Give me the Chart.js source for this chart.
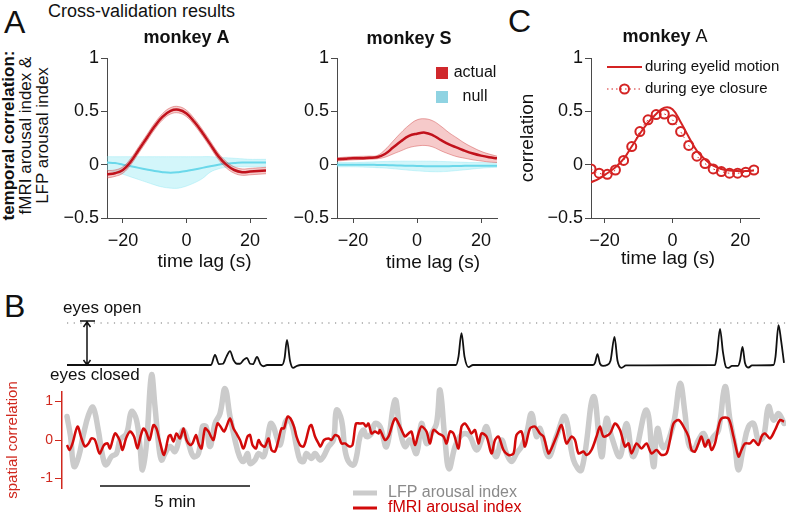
<!DOCTYPE html>
<html>
<head>
<meta charset="utf-8">
<title>Arousal index cross-validation</title>
<script src="https://cdn.jsdelivr.net/npm/chart.js@4.4.1/dist/chart.umd.min.js"></script>
<style>
    body { margin: 0; background: #fff; }
    #figure { position: relative; width: 786px; height: 516px; overflow: hidden;
              font-family: 'Liberation Sans', Arial, sans-serif; color: #111; }
    .panel { position: absolute; }
    .tag { position: absolute; font-size: 32px; line-height: 32px; }
    .heading { position: absolute; font-size: 18px; line-height: 18px; white-space: nowrap; }
    .ylab { position: absolute; width: 200px; height: 51px; font-size: 17px; line-height: 17px;
            text-align: center; white-space: nowrap; transform: rotate(-90deg); }
</style>
</head>
<body>
<div id="figure">
    <div class="tag" style="left:4px;top:6px">A</div>
    <div class="heading" style="left:48px;top:2px">Cross-validation results</div>
    <div class="ylab" style="left:-75px;top:110px"><b>temporal correlation:</b><br>fMRI arousal index &amp;<br>LFP arousal index</div>
    <div class="tag" style="left:508px;top:5px">C</div>
    <div class="tag" style="left:4px;top:290px">B</div>

    <div class="panel" style="left:45px;top:20px;width:230px;height:260px"><canvas id="monkeyA"></canvas></div>
    <div class="panel" style="left:275px;top:20px;width:230px;height:260px"><canvas id="monkeyS"></canvas></div>
    <div class="panel" style="left:505px;top:20px;width:281px;height:260px"><canvas id="eyelid"></canvas></div>
    <div class="panel" style="left:0;top:290px;width:786px;height:100px"><canvas id="eyeTraceChart"></canvas></div>
    <div class="panel" style="left:0;top:350px;width:786px;height:166px"><canvas id="arousalChart"></canvas></div>
</div>

<script>
// ── Panel A: cross-validated temporal correlation vs lag (s) ──
const lagA = [-25, -22.5, -20, -17.5, -15, -12.5, -10, -7.5, -5, -2.5, 0, 2.5, 5, 7.5, 10, 12.5, 15, 17.5, 20, 22.5, 25];

// monkey A
const actualA    = [-0.09, -0.08, -0.05, 0.03, 0.14, 0.25, 0.36, 0.45, 0.505, 0.515, 0.48, 0.40, 0.30, 0.19, 0.08, 0.00, -0.05, -0.07, -0.065, -0.06, -0.055];
const actualA_hi = [-0.055, -0.05, -0.02, 0.06, 0.17, 0.28, 0.39, 0.48, 0.535, 0.545, 0.51, 0.43, 0.33, 0.22, 0.11, 0.03, -0.02, -0.04, -0.035, -0.03, -0.025];
const actualA_lo = [-0.125, -0.11, -0.08, 0.00, 0.11, 0.22, 0.33, 0.42, 0.475, 0.485, 0.45, 0.37, 0.27, 0.16, 0.05, -0.03, -0.08, -0.10, -0.095, -0.09, -0.085];
const nullA      = [0.02, 0.015, 0.0, -0.015, -0.03, -0.045, -0.06, -0.07, -0.075, -0.07, -0.06, -0.045, -0.03, -0.015, 0.0, 0.01, 0.015, 0.02, 0.02, 0.02, 0.02];
const nullA_hi   = [0.075, 0.075, 0.075, 0.075, 0.075, 0.075, 0.075, 0.075, 0.075, 0.075, 0.075, 0.075, 0.075, 0.075, 0.07, 0.065, 0.06, 0.055, 0.05, 0.05, 0.05];
const nullA_lo   = [-0.05, -0.07, -0.09, -0.115, -0.14, -0.165, -0.19, -0.21, -0.22, -0.22, -0.2, -0.17, -0.13, -0.07, -0.04, -0.025, -0.02, -0.02, -0.02, -0.02, -0.02];

// monkey S
const actualS    = [0.05, 0.055, 0.06, 0.06, 0.065, 0.07, 0.10, 0.16, 0.22, 0.27, 0.29, 0.30, 0.275, 0.23, 0.19, 0.16, 0.13, 0.105, 0.085, 0.07, 0.06];
const actualS_hi = [0.065, 0.07, 0.075, 0.078, 0.08, 0.085, 0.14, 0.22, 0.30, 0.37, 0.42, 0.43, 0.41, 0.36, 0.30, 0.25, 0.20, 0.16, 0.125, 0.10, 0.08];
const actualS_lo = [0.035, 0.04, 0.045, 0.048, 0.05, 0.055, 0.07, 0.10, 0.13, 0.16, 0.175, 0.18, 0.165, 0.13, 0.10, 0.075, 0.06, 0.045, 0.035, 0.025, 0.02];
const nullS      = [0.0, 0.0, 0.0, 0.0, 0.0, -0.002, -0.004, -0.006, -0.008, -0.01, -0.012, -0.014, -0.015, -0.015, -0.014, -0.012, -0.011, -0.01, -0.01, -0.01, -0.01];
const nullS_hi   = [0.02, 0.02, 0.02, 0.022, 0.025, 0.028, 0.03, 0.032, 0.033, 0.033, 0.033, 0.033, 0.032, 0.03, 0.028, 0.025, 0.022, 0.02, 0.02, 0.018, 0.018];
const nullS_lo   = [-0.02, -0.02, -0.02, -0.022, -0.025, -0.028, -0.032, -0.038, -0.045, -0.052, -0.058, -0.063, -0.066, -0.066, -0.062, -0.055, -0.048, -0.04, -0.033, -0.028, -0.025];

// ── Panel C: monkey A, eyelid motion vs eye closure ──
const lagC          = [-24, -21.6, -19.2, -16.8, -14.4, -12, -9.6, -7.2, -4.8, -2.4, 0, 2.4, 4.8, 7.2, 9.6, 12, 14.4, 16.8, 19.2, 21.6, 24];
const eyelidMotionC = [-0.165, -0.13, -0.08, -0.025, 0.055, 0.17, 0.29, 0.395, 0.475, 0.535, 0.52, 0.40, 0.26, 0.13, 0.05, -0.01, -0.04, -0.055, -0.06, -0.06, -0.055];
const eyeClosureC   = [-0.04, -0.08, -0.09, -0.05, 0.04, 0.17, 0.31, 0.42, 0.47, 0.475, 0.42, 0.31, 0.18, 0.08, 0.01, -0.04, -0.065, -0.08, -0.08, -0.07, -0.05];

// ── Panel B: time courses (time in s) ──
// eyelid trace: 0 = eyes closed, 1 = eyes open
const eyeTime  = [0, 288, 296, 304, 312, 319, 326, 333, 340, 346, 353, 360, 366, 372, 380, 387, 393, 400, 430, 435,
                  440, 446, 452, 460, 468, 778, 783, 789, 795, 803, 812, 1052, 1056, 1061, 1066, 1072, 1080, 1087, 1095, 1101,
                  1109, 1118, 1296, 1300, 1306, 1312, 1318, 1323, 1330, 1342, 1346, 1351, 1356, 1363, 1370, 1413, 1417, 1423, 1428, 1434];
const eyeTrace = [0, 0, 0.24, 0.02, 0.03, 0.2, 0.33, 0.12, 0.03, 0.03, 0.12, 0.17, 0.03, 0.02, 0.19, 0.02, -0.03, 0, 0, 0.15,
                  0.6, 0.1, -0.07, -0.02, 0, 0, 0.2, 0.76, 0.2, -0.05, 0, 0, 0.05, 0.26, 0.03, -0.02, 0, 0.1, 0.67, 0.1,
                  -0.07, -0.01, 0, 0.25, 0.86, 0.3, -0.05, -0.07, -0.02, -0.02, 0.1, 0.43, 0.05, -0.06, -0.01, 0, 0.2, 0.95, 0.6, 0.05];

const lfpTime  = [0, 7, 14, 23, 33, 43, 52, 62, 71, 78, 89, 99, 106, 119, 129, 139, 146, 151, 159, 169,
                  176, 183, 189, 196, 206, 216, 226, 233, 243, 253, 263, 271, 278, 286, 296, 306, 316, 326, 336, 345,
                  353, 361, 366, 376, 383, 393, 399, 407, 413, 419, 426, 433, 439, 449, 459, 466, 473, 479, 489, 496,
                  506, 513, 523, 533, 539, 549, 556, 563, 573, 579, 586, 593, 599, 609, 616,
                  626, 639, 656, 666, 676, 686, 699, 709, 719, 729, 739, 746, 756, 764, 776, 786, 796, 806, 819, 829,
                  839, 849, 859, 869, 879, 889, 899, 909, 919, 929, 939, 946, 963, 979, 996, 1013, 1029, 1053, 1069, 1079,
                  1089, 1106, 1119, 1133, 1159, 1173, 1181, 1193, 1213, 1226, 1236, 1243, 1253, 1263, 1273, 1283, 1293, 1303, 1316, 1326,
                  1336, 1343, 1353, 1363, 1373, 1383, 1393, 1403, 1413, 1423, 1434];
const lfpIndex = [0.61, 0.1, -0.69, -0.45, 0.15, 0.65, 0.85, 0.3, -0.4, -0.65, -0.43, -0.35, 0, 0.17, 0.74, 0.52, -0.17, -0.78, -0.09, 1.69,
                  0.87, -0.09, -0.52, -0.35, -0.17, -0.30, 0.09, 0.26, -0.09, -0.43, -0.35, 0.35, 0.35, -0.17, 0.43, 0.69, 1.34, 0.61, 0, -0.43,
                  -0.56, -0.35, -0.61, -0.52, -0.35, -0.43, -0.13, 0.43, 0.35, 0.09, -0.13, 0.26, 0.52, 0.43, -0.17, -0.52, -0.56, -0.35, -0.48, -0.35,
                  -0.52, -0.43, -0.17, 0, 0.78, 0.52, -0.26, -0.56, -0.65, -0.43, 0.09, 0.26, 0.09, 0.17, 0.43,
                  0.35, -0.17, 1.04, 0.26, -0.17, 0, -0.35, 0.43, -0.09, 0.17, 0.43, 1.30, 0.0, -0.75, -0.17, 0.09, 0.17, 0.09, -0.26, 0,
                  0.35, -0.17, -0.43, 0, -0.35, -0.56, -0.35, -0.17, 0.17, 0.69, 0.09, 0.30, -0.43, 0.1, 0.61, -0.52, -0.78, 1.13, -0.43, 0.56,
                  0.09, -0.43, 0.43, -0.43, 0.78, -0.69, 0.3, -0.2, 0.43, 1.47, 0.69, -0.09, -0.26, 0, 0.17, -0.09, 0.09, 0.26, 1.39, 0.52,
                  -0.17, -0.78, -0.17, 0.35, 0.43, 0, 0.09, 0.87, 0.52, 0.69, 0.43];

const fmriTime  = [0, 5, 11, 21, 29, 36, 43, 49, 56, 65, 74, 81, 86, 96, 105, 111, 118, 126, 134, 141,
                   147, 153, 158, 165, 173, 179, 185, 194, 203, 207, 213, 219, 226, 233, 239, 246, 251, 258, 263, 269,
                   276, 283, 288, 293, 301, 307, 314, 319, 326, 333, 339, 346, 353, 361, 366, 371, 378, 383, 389, 396,
                   403, 409, 416, 423, 429, 434, 441, 447, 454, 459, 466, 473, 478, 485, 489, 496, 503, 507, 514, 523,
                   529, 536, 543, 549, 556, 565, 571, 578, 585, 593, 598, 603, 609, 616, 623,
                   626, 636, 643, 656, 666, 676, 683, 689, 696, 703, 709, 719, 726, 733, 743, 753, 759, 766, 773, 783,
                   789, 796, 803, 809, 816, 823, 829, 839, 849, 856, 863, 873, 883, 893, 899, 909, 916, 926, 936, 946,
                   953, 963, 969, 979, 989, 999, 1009, 1016, 1023, 1033, 1039, 1049, 1059, 1066, 1073, 1086, 1096, 1106, 1116, 1123,
                   1129, 1139, 1149, 1159, 1169, 1179, 1189, 1199, 1206, 1213, 1223, 1233, 1243, 1249, 1256, 1263, 1269, 1276, 1283, 1289,
                   1296, 1303, 1309, 1323, 1333, 1343, 1349, 1356, 1366, 1373, 1383, 1389, 1396, 1406, 1416, 1426, 1434];
const fmriIndex = [-0.13, -0.26, -0.09, 0.35, 0.04, -0.17, -0.09, 0.04, 0, -0.35, -0.13, -0.09, -0.22, 0.17, 0, -0.26, 0.04, 0.22, 0.09, -0.22,
                   0.09, 0.30, 0.22, 0, 0.39, 0.30, 0, -0.39, 0.09, 0.13, -0.04, 0.17, 0.04, 0.30, 0, -0.13, -0.09, 0.13, -0.09, -0.22,
                   0.30, 0.22, 0.09, 0, 0.43, 0.35, 0.22, 0.35, 0.56, 0.30, 0.17, 0, -0.22, 0.09, 0.13, -0.13, -0.22, 0, -0.13, -0.17,
                   0.04, -0.26, -0.30, 0, 0.30, 0.30, 0.61, 0.56, 0.35, 0.09, -0.13, -0.17, 0, 0.35, 0.39, 0.09, -0.09, -0.17, 0, 0.04,
                   0, 0.13, 0.09, -0.09, -0.09, -0.17, -0.13, 0.43, 0.43, 0.43, 0.35, 0.43, 0.17, 0.22, 0.17,
                   0.26, 0, 0.09, 0.56, 0.35, 0.09, 0.17, 0.22, -0.13, 0.17, 0.35, 0.22, -0.09, 0.26, 0.17, 0.09, -0.09, 0.22, 0.17, -0.22,
                   0.35, 0.43, 0.30, 0.17, 0.26, -0.09, 0.17, 0.09, -0.35, 0, 0.09, -0.26, -0.39, -0.35, 0.13, 0.22, -0.17, 0.30, 0.35, 0.17,
                   0.09, -0.35, -0.22, 0.09, 0.39, -0.09, 0.09, 0, -0.35, -0.30, -0.39, -0.26, 0.09, 0.35, 0.09, 0.17, 0.43, 0.26, -0.17, -0.09,
                   -0.35, -0.09, -0.22, -0.09, -0.35, -0.26, -0.39, -0.35, 0, 0.43, 0.52, 0.35, 0.09, -0.26, -0.30, -0.09, 0.09, -0.17, 0, -0.26,
                   -0.09, 0.35, 0.56, 0.56, 0.09, -0.43, -0.26, -0.09, -0.09, 0, -0.13, 0.09, 0.17, 0.04, 0.26, 0.52, 0.48];

// ── Tick labels ──
const lagTicks     = [-20, 0, 20];
const corrTicks    = [-0.5, 0, 0.5, 1];
const spatialTicks = [-1, 0, 1];

// ── Styling ──
const FONT = "'Liberation Sans', Arial, sans-serif";
const AXIS = '#4a4a4a';
const RED = { line: '#c1121c', width: 2.5, band: 'rgba(226, 80, 80, 0.3)', edge: 'rgba(205, 60, 60, 0.55)' };
const CYAN = { line: '#6ad8ea', width: 2, band: 'rgba(130, 228, 242, 0.35)', edge: 'rgba(130, 228, 242, 0.45)' };
const SPATIAL_RED = '#d0281e';

Chart.defaults.font.family = FONT;
Chart.defaults.color = '#111';

const pts = (xs, ys) => xs.map((x, i) => ({ x: x, y: ys[i] }));
const fmtMinus = v => (v < 0 ? '\u2212' + Math.abs(v) : String(v));
const font = (size, weight) => (weight || 'normal') + ' ' + size + 'px ' + FONT;

// ── Plugins: titles, inline legends, panel B annotations ──
const panelText = {
    id: 'panelText',
    afterDraw(chart, args, opts) {
        if (!opts.items) return;
        const { ctx, chartArea: a } = chart;
        opts.items.forEach(item => {
            ctx.save();
            ctx.fillStyle = item.color || '#111';
            ctx.textBaseline = 'alphabetic';
            ctx.textAlign = 'left';
            const widths = item.parts.map(p => { ctx.font = p.font; return ctx.measureText(p.text).width; });
            let x = (a.left + a.right) / 2 + (item.dx || 0) - widths.reduce((s, w) => s + w, 0) / 2;
            const y = (item.fromBottom ? a.bottom : a.top) + item.dy;
            item.parts.forEach((p, i) => { ctx.font = p.font; ctx.fillText(p.text, x, y); x += widths[i]; });
            ctx.restore();
        });
    }
};

const inlineLegend = {
    id: 'inlineLegend',
    afterDraw(chart, args, opts) {
        if (!opts.items) return;
        const { ctx, chartArea: a } = chart;
        ctx.save();
        ctx.font = opts.font;
        ctx.textBaseline = 'middle';
        opts.items.forEach((it, i) => {
            const y = a.top + opts.y + i * opts.rowGap;
            const x0 = a.left + opts.x;
            if (it.kind === 'box') {
                ctx.fillStyle = it.color;
                ctx.fillRect(x0, y - 6, 12, 12);
            } else {
                ctx.strokeStyle = it.color;
                ctx.lineWidth = it.lineWidth;
                ctx.setLineDash(it.dash || []);
                ctx.beginPath(); ctx.moveTo(x0, y); ctx.lineTo(x0 + opts.sample, y); ctx.stroke();
                ctx.setLineDash([]);
                if (it.marker) {
                    ctx.lineWidth = 2;
                    ctx.beginPath(); ctx.arc(x0 + opts.sample / 2, y, 4.5, 0, Math.PI * 2); ctx.stroke();
                }
            }
            ctx.fillStyle = it.textColor || '#111';
            ctx.textAlign = opts.textAlign || 'left';
            ctx.fillText(chart.data.datasets[it.dataset].label, a.left + opts.textX, y);
        });
        ctx.restore();
    }
};

const eyelidMarks = {
    id: 'eyelidMarks',
    afterDraw(chart, args, opts) {
        if (opts.arrowAt === undefined) return;
        const { ctx, chartArea: a, scales: { x, y } } = chart;
        const yOpen = y.getPixelForValue(1), yClosed = y.getPixelForValue(0);
        ctx.save();
        // dotted "eyes open" level
        ctx.strokeStyle = '#777';
        ctx.lineWidth = 1.2;
        ctx.setLineDash([1.2, 5.5]);
        ctx.beginPath(); ctx.moveTo(a.left, yOpen); ctx.lineTo(a.right, yOpen); ctx.stroke();
        ctx.setLineDash([]);
        // double arrow between closed and open
        const ax = x.getPixelForValue(opts.arrowAt);
        ctx.strokeStyle = '#111';
        ctx.lineWidth = 1.5;
        ctx.beginPath();
        ctx.moveTo(ax, yOpen - 1); ctx.lineTo(ax, yClosed);
        ctx.moveTo(ax - 7, yOpen - 2); ctx.lineTo(ax + 8, yOpen - 2);
        ctx.moveTo(ax - 3.5, yOpen + 4); ctx.lineTo(ax, yOpen - 1); ctx.lineTo(ax + 3.5, yOpen + 4);
        ctx.moveTo(ax - 3.5, yClosed - 5); ctx.lineTo(ax, yClosed); ctx.lineTo(ax + 3.5, yClosed - 5);
        ctx.stroke();
        ctx.fillStyle = '#111';
        ctx.font = font(17);
        ctx.textAlign = 'left';
        ctx.textBaseline = 'alphabetic';
        ctx.fillText(opts.openLabel, 63, yOpen - 9.5);
        ctx.fillText(opts.closedLabel, 50, yClosed + 15);
        ctx.restore();
    }
};

const scaleBar = {
    id: 'scaleBar',
    afterDraw(chart, args, opts) {
        if (!opts.seconds) return;
        const { ctx, chartArea: a, scales: { x } } = chart;
        const x0 = x.getPixelForValue(opts.start), x1 = x.getPixelForValue(opts.start + opts.seconds);
        const y = a.bottom - 2;
        ctx.save();
        ctx.strokeStyle = '#111';
        ctx.lineWidth = 1.5;
        ctx.beginPath(); ctx.moveTo(x0, y); ctx.lineTo(x1, y); ctx.stroke();
        ctx.fillStyle = '#111';
        ctx.font = font(17);
        ctx.textAlign = 'center';
        ctx.textBaseline = 'alphabetic';
        ctx.fillText(opts.label, (x0 + x1) / 2, y + 21);
        ctx.restore();
    }
};

Chart.register(panelText, inlineLegend, eyelidMarks, scaleBar);

// ── Shared axis builders ──
function lagAxis(min, max) {
    return {
        type: 'linear', min: min, max: max,
        afterBuildTicks: ax => { ax.ticks = lagTicks.map(v => ({ value: v })); },
        afterFit: ax => { ax.height = 62; },
        grid: { drawOnChartArea: false, tickLength: 5, color: AXIS },
        border: { color: AXIS, width: 1 },
        ticks: { padding: 7, font: { size: 18 }, color: '#111', callback: fmtMinus, maxRotation: 0 }
    };
}

function corrAxis(width, title) {
    return {
        min: -0.5, max: 1,
        afterBuildTicks: ax => { ax.ticks = corrTicks.map(v => ({ value: v })); },
        afterFit: ax => { ax.width = width; },
        grid: { drawOnChartArea: false, tickLength: 6, color: AXIS },
        border: { color: AXIS, width: 1 },
        ticks: { padding: 2, font: { size: 18 }, color: '#111', callback: fmtMinus },
        title: title
            ? { display: true, text: title, font: { size: 19 }, color: '#111', padding: { top: 11, bottom: 0 } }
            : { display: false }
    };
}

function traceSets(lags, mean, hi, lo, style, label, order) {
    return [
        { label: label, data: pts(lags, mean), borderColor: style.line, borderWidth: style.width, order: order },
        { label: label + ' upper', data: pts(lags, hi), borderColor: style.edge, borderWidth: 0.8,
          backgroundColor: style.band, fill: '+1', order: order + 1 },
        { label: label + ' lower', data: pts(lags, lo), borderColor: style.edge, borderWidth: 0.8, order: order + 1 }
    ];
}

const common = {
    responsive: true,
    maintainAspectRatio: false,
    animation: false,
    events: [],
    elements: { point: { radius: 0 }, line: { tension: 0.4, fill: false } }
};
const quiet = { legend: { display: false }, tooltip: { enabled: false } };

const titleItem = (parts, dx, dy) => ({ parts: parts, dx: dx, dy: dy });
const lagTitle = (dx, dy) => ({ parts: [{ text: 'time lag (s)', font: font(19) }], dx: dx, dy: dy, fromBottom: true });

// ── Panel A, monkey A ──
new Chart(document.getElementById('monkeyA'), {
    type: 'line',
    data: { datasets: [
        ...traceSets(lagA, actualA, actualA_hi, actualA_lo, RED, 'actual', 0),
        ...traceSets(lagA, nullA, nullA_hi, nullA_lo, CYAN, 'null', 2)
    ] },
    options: {
        ...common,
        layout: { padding: { top: 38, right: 9 } },
        scales: { x: lagAxis(-25, 25), y: corrAxis(62) },
        plugins: { ...quiet,
            panelText: { items: [titleItem([{ text: 'monkey A', font: font(18, 'bold') }], 0, -15), lagTitle(18, 49)] } }
    }
});

// ── Panel A, monkey S ──
new Chart(document.getElementById('monkeyS'), {
    type: 'line',
    data: { datasets: [
        ...traceSets(lagA, actualS, actualS_hi, actualS_lo, RED, 'actual', 0),
        ...traceSets(lagA, nullS, nullS_hi, nullS_lo, CYAN, 'null', 2)
    ] },
    options: {
        ...common,
        layout: { padding: { top: 38, right: 8 } },
        scales: { x: lagAxis(-25, 25), y: corrAxis(62) },
        plugins: { ...quiet,
            panelText: { items: [titleItem([{ text: 'monkey S', font: font(18, 'bold') }], -8, -14), lagTitle(16, 50)] },
            inlineLegend: { font: font(16), x: 99, y: 15, rowGap: 24, textX: 138, textAlign: 'center',
                items: [{ dataset: 0, kind: 'box', color: '#d0282c' }, { dataset: 3, kind: 'box', color: '#8fd3e2' }] } }
    }
});

// ── Panel C ──
new Chart(document.getElementById('eyelid'), {
    type: 'line',
    data: { datasets: [
        { label: 'during eyelid motion', data: pts(lagC, eyelidMotionC), borderColor: '#d42323', borderWidth: 2, order: 0 },
        { label: 'during eye closure', data: pts(lagC, eyeClosureC), borderColor: '#d42323', borderWidth: 1,
          borderDash: [1.5, 3.5], pointRadius: 4.5, pointBorderWidth: 2, pointBorderColor: '#d42323',
          pointBackgroundColor: 'rgba(255,255,255,0)', order: 1 }
    ] },
    options: {
        ...common,
        layout: { padding: { top: 38, right: 27 } },
        scales: { x: lagAxis(-24, 25.5), y: corrAxis(86, 'correlation') },
        plugins: { ...quiet,
            panelText: { items: [titleItem([{ text: 'monkey ', font: font(18, 'bold') }, { text: 'A', font: font(18) }], -10, -16),
                                 lagTitle(-7, 46)] },
            inlineLegend: { font: font(15), x: 16, y: 9, rowGap: 22, sample: 35, textX: 54,
                items: [{ dataset: 0, kind: 'line', color: '#d42323', lineWidth: 2 },
                        { dataset: 1, kind: 'line', color: '#d42323', lineWidth: 1, dash: [1.5, 3], marker: true }] } }
    }
});

// ── Panel B, eyelid trace ──
new Chart(document.getElementById('eyeTraceChart'), {
    type: 'line',
    data: { datasets: [
        { label: 'eyelid', data: pts(eyeTime, eyeTrace), borderColor: '#111', borderWidth: 1.8,
          cubicInterpolationMode: 'monotone', clip: false }
    ] },
    options: {
        ...common,
        layout: { padding: { left: 67, top: 25, bottom: 15, right: 0 } },
        scales: {
            x: { type: 'linear', display: false, min: 0, max: 1438 },
            y: { display: false, min: -0.238, max: 1.19 }
        },
        plugins: { ...quiet, eyelidMarks: { arrowAt: 40, openLabel: 'eyes open', closedLabel: 'eyes closed' } }
    }
});

// ── Panel B, arousal indices ──
new Chart(document.getElementById('arousalChart'), {
    type: 'line',
    data: { datasets: [
        { label: 'fMRI arousal index', data: pts(fmriTime, fmriIndex), borderColor: '#d20a0a', borderWidth: 2.5,
          tension: 0.3, clip: false, order: 0 },
        { label: 'LFP arousal index', data: pts(lfpTime, lfpIndex), borderColor: '#cbcbcb', borderWidth: 5.5,
          borderJoinStyle: 'round', borderCapStyle: 'round', clip: false, order: 1 }
    ] },
    options: {
        ...common,
        layout: { padding: { top: 42, bottom: 28 } },
        scales: {
            x: { type: 'linear', display: false, min: -10, max: 1438 },
            y: {
                min: -1.25, max: 1.25,
                afterBuildTicks: ax => { ax.ticks = spatialTicks.map(v => ({ value: v })); },
                afterFit: ax => { ax.width = 62; },
                grid: { drawOnChartArea: false, tickLength: 7, color: SPATIAL_RED },
                border: { color: SPATIAL_RED, width: 1.5 },
                ticks: { padding: 2, font: { size: 14 }, color: SPATIAL_RED, callback: v => String(v) },
                title: { display: true, text: 'spatial correlation', color: SPATIAL_RED, font: { size: 15 },
                         padding: { top: 4, bottom: 0 } }
            }
        },
        plugins: { ...quiet,
            scaleBar: { start: 66, seconds: 300, label: '5 min' },
            inlineLegend: { font: font(16), x: 291, y: 101, rowGap: 15, sample: 24, textX: 326,
                items: [{ dataset: 1, kind: 'line', color: '#cbcbcb', lineWidth: 5, textColor: '#8a8a8a' },
                        { dataset: 0, kind: 'line', color: '#d20a0a', lineWidth: 3, textColor: '#cc0000' }] } }
    }
});
</script>
</body>
</html>
